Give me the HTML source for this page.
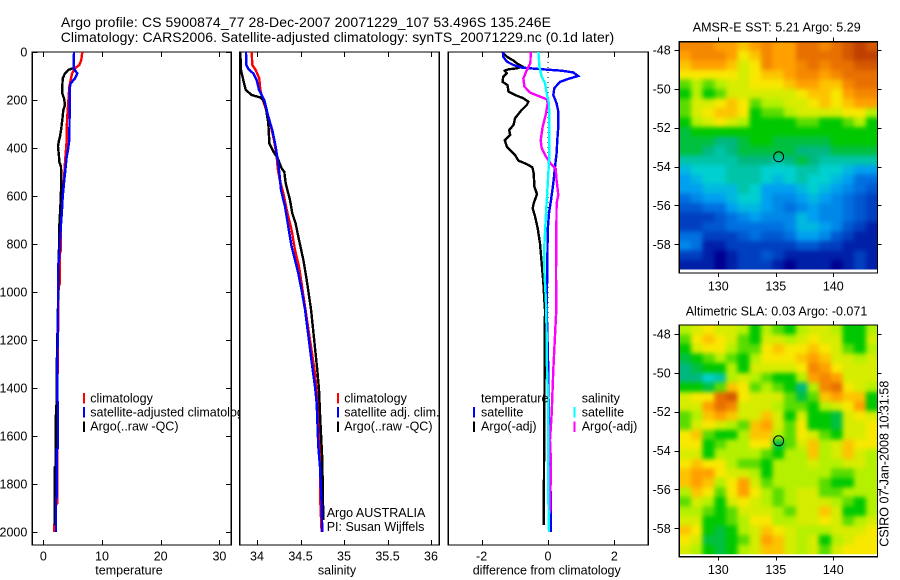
<!DOCTYPE html>
<html lang="en">
<head>
<meta charset="utf-8">
<title>Argo profile CS 5900874_77</title>
<style>
html,body{margin:0;padding:0;background:#fff;}
svg{display:block;}
text{font-family:"Liberation Sans",sans-serif;fill:#000;}
.t{font-size:12.5px;}
.title{font-size:14px;}
.prof{fill:none;stroke-width:2.4;shape-rendering:crispEdges;stroke-linejoin:miter;}
.box{fill:#fff;stroke:#000;stroke-width:1.4;shape-rendering:crispEdges;}
.frame{fill:none;stroke:#000;stroke-width:1.4;shape-rendering:crispEdges;}
.tick{stroke:#000;stroke-width:1;shape-rendering:crispEdges;}
.mk{shape-rendering:crispEdges;}
</style>
</head>
<body>
<svg id="fig" xmlns="http://www.w3.org/2000/svg" width="900" height="580" viewBox="0 0 900 580">
  <defs>
    <filter id="blurSst" filterUnits="userSpaceOnUse" x="660" y="20" width="240" height="270" color-interpolation-filters="sRGB">
      <feGaussianBlur stdDeviation="2.5"/>
    </filter>
    <filter id="blurSla" filterUnits="userSpaceOnUse" x="660" y="305" width="240" height="270" color-interpolation-filters="sRGB">
      <feGaussianBlur stdDeviation="2.5"/>
    </filter>
    <clipPath id="clipSst"><rect x="679.3" y="41.7" width="198.2" height="227.8"/></clipPath>
    <clipPath id="clipSla"><rect x="679.3" y="325" width="198.2" height="229.3"/></clipPath>
  </defs>
  <rect x="0" y="0" width="900" height="580" fill="#fff"/>
  <g id="p1"></g>
  <g id="p2"></g>
  <g id="p3"></g>
  <g id="m1"></g>
  <g id="m2"></g>

  <text class="title" x="61" y="27" textLength="490" lengthAdjust="spacing">Argo profile: CS 5900874_77 28-Dec-2007 20071229_107 53.496S 135.246E</text>
  <text class="title" x="60.7" y="42" textLength="553.5" lengthAdjust="spacing">Climatology: CARS2006. Satellite-adjusted climatology: synTS_20071229.nc (0.1d later)</text>

  <text class="t" x="129" y="574.5" text-anchor="middle">temperature</text>
  <text class="t" x="337" y="574.5" text-anchor="middle">salinity</text>
  <text class="t" x="546.7" y="574.5" text-anchor="middle" textLength="148" lengthAdjust="spacing">difference from climatology</text>

  <text class="t" x="692.7" y="31.5" textLength="168" lengthAdjust="spacing">AMSR-E SST: 5.21  Argo: 5.29</text>
  <text class="t" x="685.7" y="315.5" textLength="181.6" lengthAdjust="spacing">Altimetric SLA: 0.03  Argo: -0.071</text>
  <text class="t" transform="translate(888.5,546.7) rotate(-90)" textLength="166" lengthAdjust="spacing">CSIRO 07-Jan-2008 10:31:58</text>

  <text class="t" x="326.7" y="517">Argo AUSTRALIA</text>
  <text class="t" x="326.7" y="531">PI: Susan Wijffels</text>
</svg>

<script>
/* ---------- axis tick labels ---------- */
const depthTicks = [0, 200, 400, 600, 800, 1000, 1200, 1400, 1600, 1800, 2000];
const tempTicks = [0, 10, 20, 30];
const salTicks = [34, 34.5, 35, 35.5, 36];
const diffTicks = [-2, 0, 2];
const lonTicks = [130, 135, 140];
const latTicks = [-48, -50, -52, -54, -56, -58];

/* ---------- temperature panel ---------- */
const climTDepth = [0,33,54,68,89,117,144,228,283,367,478,533,575,644,714,783,825,840,964,978,1400,1880,1890,1960,1970,2000];
const climT = [6.65,6.48,6.13,5.40,4.89,4.66,4.43,4.20,4.04,3.98,3.64,3.53,3.30,3.07,2.90,3.0,3.0,2.85,2.85,2.6,2.4,2.39,2.1,2.0,1.88,1.88];
const satTDepth = [0,68,89,110,131,151,228,367,408,436,478,533,603,658,700,783,853,894,1072,1325,1453,1460,1650,1655,1853,1860,2000];
const satT = [5.23,5.17,5.80,5.40,4.66,4.49,4.49,4.43,4.21,3.98,3.81,3.58,3.30,3.19,3.07,2.84,2.73,2.50,2.50,2.39,2.39,2.50,2.50,2.28,2.28,2.16,2.16];
const argoTDepth = [0,68,69,75,89,110,144,172,193,221,242,283,318,353,374,394,436,457,478,533,617,672,728,783,853,922,1061,1325,1450,1533,1728,1730,1970];
const argoT = [5.23,5.17,4.83,4.26,3.70,3.30,3.24,3.24,3.53,3.70,3.41,3.24,3.07,2.84,2.62,2.50,2.67,2.73,3.02,3.07,2.96,2.84,2.73,2.73,2.62,2.56,2.50,2.28,2.28,2.11,2.11,1.94,1.94];

/* ---------- salinity panel ---------- */
const climSDepth = [0,54,75,110,158,207,283,367,436,485,533,589,658,742,825,894,964,1061,1339,1547,1872,2000];
const climS = [33.939,33.946,33.985,34.027,34.038,34.073,34.142,34.195,34.226,34.238,34.261,34.303,34.341,34.398,34.437,34.483,34.513,34.552,34.667,34.720,34.728,34.743];
const satSDepth = [0,54,71,89,117,158,200,269,325,394,450,506,575,644,728,811,867,922,992,1072,1325,1394,1464,1533,1644,1728,1881,2000];
const satS = [33.874,33.877,33.900,33.958,33.996,34.023,34.084,34.130,34.176,34.215,34.238,34.257,34.276,34.322,34.360,34.398,34.437,34.475,34.513,34.552,34.640,34.667,34.686,34.693,34.705,34.724,34.743,34.751];
const argoSDepth = [0,75,117,158,179,189,200,228,297,381,415,443,485,499,547,617,672,714,783,867,950,1072,1325,1408,1533,1700,1950];
const argoS = [33.808,33.816,33.843,33.870,33.939,34.034,34.073,34.100,34.130,34.142,34.188,34.238,34.284,34.314,34.330,34.379,34.406,34.444,34.483,34.533,34.571,34.621,34.693,34.713,34.728,34.751,34.762];

/* ---------- difference panel ---------- */
const argoDTDepth = [0,19,36,47,61,68,72,78,89,103,124,138,165,179,193,207,221,244,276,304,325,346,367,394,429,453,467,481,506,561,592,631,651,686,735,797,881,964,1033,1072,1533,1970];
const argoDT = [-1.38,-1.24,-1.04,-0.94,-0.77,-0.94,-1.19,-1.30,-1.24,-1.35,-1.37,-1.22,-1.19,-0.99,-0.74,-0.59,-0.64,-0.81,-0.99,-1.04,-1.17,-1.14,-1.30,-1.24,-0.99,-0.89,-0.64,-0.47,-0.43,-0.41,-0.33,-0.43,-0.46,-0.39,-0.31,-0.24,-0.19,-0.14,-0.11,-0.09,-0.11,-0.13];
const satDTDepth = [0,19,40,54,65,71,78,85,100,110,124,151,179,214,249,311,367,422,478,547,617,672,742,894,1072,1325,1644,1881,2000];
const satDT = [-1.35,-1.35,-1.24,-1.04,-0.79,-0.29,0.41,0.76,0.91,0.66,0.36,0.19,0.16,0.26,0.31,0.31,0.28,0.26,0.21,0.16,0.09,0.03,-0.01,-0.02,-0.04,0.01,0.03,0.09,0.09];
const argoDSDepth = [0,47,75,110,144,169,186,197,214,256,311,367,401,436,467,485,533,596,631,783,922,1072,1325,1506,1617,1714,1922];
const argoDS = [-0.52,-0.53,-0.64,-0.74,-0.71,-0.54,-0.24,-0.04,-0.01,-0.06,-0.16,-0.22,-0.19,-0.06,0.09,0.23,0.26,0.31,0.26,0.25,0.24,0.25,0.16,0.11,0.06,0.09,0.06];
const satDSDepth = [0,61,103,131,172,214,311,436,506,603,672,811,908,1019,1072,1325,1464,1853,2000];
const satDS = [-0.29,-0.26,-0.19,-0.09,-0.04,0.03,0.04,0.04,0.01,-0.03,-0.06,-0.11,-0.11,-0.07,-0.05,-0.03,0.01,0.01,0.03];

/* ---------- map fields (colour-scale level per cell, north to south) ---------- */
const sstLevels = [
[9.5,9.5,9.5,9,9,8.5,9,9.5,9,9,10,10,9.5,10,10.5,11,10.5],
[9,9.5,9.5,9.5,9,8,8.5,9.5,9,9,10,10,10,10,10.5,11,11],
[8.5,9,9,9,8.5,7.5,8,9.5,9,9,9.5,10,9.5,10,10,10.5,10.5],
[8,8,8,8,8,7.5,8,8.5,8.5,9,9.5,9.5,9,9.5,10,10,10],
[6.5,7,6.5,7,7.5,7.5,8,8,8,8.5,9,9,8.5,8.5,9.5,10,10],
[6,7,6,6.5,7.5,7.5,7.5,7.5,7.5,7.5,8,8.5,8.5,8,9,9.5,9.5],
[6.5,7.5,7.5,8,8.5,8,6.5,7,7,7.5,7.5,8,8.5,8,8.5,9,9],
[6.5,7.5,8,8.5,8.5,8,6,6.5,6.5,7,7.5,7.5,7.5,7.5,8,8,7],
[6,7,7.5,8,7.5,7,6,6,6,6,6.5,6.5,6,6,6.5,7,6],
[5.5,6,6,6,6,6,6,6,6,6,6,6,6,6,6,6,6],
[5.5,5.5,5.5,5,5,5.5,6,6,5.5,5.5,5.5,5.5,5.5,6,6,6,6],
[5.5,5.5,5,4.5,5,5.5,5.5,5.5,5.5,5.5,5,5,5,5.5,5.5,5.5,5.5],
[4.5,4.5,4.5,4.5,4.5,5,5,5,4.5,5,5.5,5,4.5,4.5,4.5,4.5,4.5],
[3.5,4,4,4,4.5,4.5,4.5,4,4,4,4.5,4.5,4,4,3.5,3,3],
[3,3.5,4,4,4.5,4.5,4.5,4,3.5,4,4.5,4,4,3.5,3,2,2],
[3,3,3.5,3.5,3.5,4.5,4,3,3,3,3.5,4,3.5,3,2.5,2,1.5],
[2,2.5,3,3,3.5,4,4,3,2.5,2.5,3,3.5,3,2.5,2,1.5,1],
[1.5,1.5,2,2,3,3.5,3.5,3,2.5,2,2.5,3,2.5,2.5,2,1.5,1],
[1,1,1,1.5,2,2.5,3,2.5,2.5,2.5,3.5,3,2.5,2.5,2,1.5,1],
[1,1,1.5,1.5,2,2,2,2,2,2.5,3.5,3.5,3,2.5,1.5,1,0.5],
[2,2,1,1,1,1.5,2,1.5,1.5,2,3,3,2.5,1.5,1,0.5,0.5],
[2.5,2,0.5,0.5,1,1,1,1,1,1,1.5,1.5,1,1,0.5,0.5,0.5],
[1,1,0.5,0,0.5,1,1,1.5,1,0.5,0.5,0.5,0.5,0.5,0.5,1,0.5],
[0.5,0.5,0.5,0,0.5,1,1,1,0.5,0,0.5,0.5,0.5,0,0.5,1,0.5]
];
const slaLevels = [
[7,7.5,8,7.5,7.5,7,6,7,6.5,6,7,7.5,7.5,7,6,6,7],
[6.5,8,8.5,8,7.5,6.5,6,7.5,7.5,7,7.5,8,7.5,7.5,6,6,7.5],
[6,7.5,8,8,7,6.5,6.5,8,8.5,8,8,8.5,8,7.5,6.5,6,7],
[5.5,6,6.5,7,6.5,6,7,8,8,8,8.5,9,8.5,7.5,7.5,7,7.5],
[5,5.5,6,6,7,6,7.5,7.5,7.5,7.5,8,9.5,9,8,7.5,7.5,7.5],
[5,5,4,4.5,7,7.5,7,6.5,6,6,7,9,9.5,9,7.5,7.5,7.5],
[6,6,5.5,6.5,8.5,8,6.5,7,6.5,6,5,7,9.5,10,8,7.5,7],
[7.5,8,8,10,10.5,8,7.5,7.5,7.5,6.5,5.5,6.5,8.5,9,8.5,8.5,6],
[7.5,7.5,9,10,9.5,7.5,7.5,7.5,7,6.5,6.5,6,7,7.5,8,9,6],
[6.5,7,8.5,9,8.5,7.5,7.5,8.5,7.5,6,7.5,6,6,5.5,7.5,8,7.5],
[6.5,7.5,8,7.5,7,6.5,8.5,9,7.5,6.5,8,6,6,5.5,7.5,7.5,8],
[8,8.5,6.5,6,6,7,8.5,8.5,7,6.5,8,7.5,6.5,6,7.5,7.5,8],
[8,8,6,6.5,7,7,8,8,5.5,6.5,7.5,8.5,7,7.5,8.5,8,8],
[7.5,7.5,6,7,7,7,7,6.5,6,7,7,8.5,7,7.5,8.5,7.5,7],
[8,8.5,8,8,7,6.5,6.5,6,7,7,7,7.5,7,7,7.5,7.5,7],
[8.5,9,9,8,7.5,7.5,7,6,7,7,7,7,7,6.5,6.5,7,7],
[8.5,9,8.5,7,8,9,7.5,6.5,7,7,7,7,6.5,6,6,7,7],
[7,8.5,8,6.5,8,9,8,7,6.5,7,7.5,7.5,6.5,6.5,7,7,7],
[6.5,7.5,7,6,7.5,8,7.5,7,6.5,7,7.5,7.5,7.5,7,6.5,6,7],
[7,7,6.5,6,6.5,7.5,7.5,7.5,7,6.5,7.5,7.5,8.5,7.5,6,6,7],
[7.5,7.5,6,6,6.5,7,8,8,7,7,7.5,7.5,8,7.5,6.5,7,7.5],
[8.5,8,6,5.5,6,7,7.5,8.5,8,7.5,7,7,7,7.5,7.5,7.5,8],
[8,7.5,5.5,5.5,6,6.5,7.5,9,8.5,7.5,7,7.5,6,7,7.5,8,8],
[7.5,7,6,5.5,6,7,7.5,8.5,8.5,7.5,7,7.5,6.5,7.5,8,8,8]
];
const profileLon = [135.246];
const profileLat = [-53.496];

/* ---------- helpers ---------- */
const NS = 'http://www.w3.org/2000/svg';
function mk(parent, tag, attrs, txt) {
  const el = document.createElementNS(NS, tag);
  for (const k in attrs) el.setAttribute(k, attrs[k]);
  if (txt !== undefined) el.textContent = txt;
  parent.appendChild(el);
  return el;
}
const yDepth = d => 52 + d * 0.24;
const xTemp = v => 43.3 + v * 5.87;
const xSal = v => 257 + (v - 34) * 87;
const xDiff = v => 548 + v * 33.2;
const LX0 = 679.3, LX1 = 877.5;

function drawLine(g, xf, depth, vals, color, name) {
  let d = '';
  for (let i = 0; i < vals.length; i++) {
    d += (i ? 'L' : 'M') + xf(vals[i]).toFixed(1) + ' ' + yDepth(depth[i]).toFixed(1);
  }
  const el = mk(g, 'path', {d: d, stroke: color, 'class': 'prof'});
  
  
}

function panelBox(g, x0, x1, name) {
  const el = mk(g, 'rect', {x: x0, y: 52, width: x1 - x0, height: 493, 'class': 'box'});
  
  
}

function xTicks(g, xf, ticks, fmt, name) {
  ticks.forEach(v => {
    const x = Math.round(xf(v)) + 0.5;
    const a = mk(g, 'line', {x1: x, x2: x, y1: 52, y2: 57, 'class': 'tick'});
    
    
    const b = mk(g, 'line', {x1: x, x2: x, y1: 540, y2: 545, 'class': 'tick'});
    
    
    const t = mk(g, 'text', {x: xf(v), y: 560.5, 'text-anchor': 'middle', 'class': 't'}, fmt(v));
    
    
  });
}

function legendMark(g, x, y, color, name) {
  const el = mk(g, 'rect', {x: x, y: y, width: 2, height: 10.5, fill: color, 'class': 'mk'});
  
  
}
function legendText(g, x, y, txt, name) {
  const el = mk(g, 'text', {x: x, y: y, 'class': 't'}, txt);
  
  
}

/* ---------- temperature panel ---------- */
const p1 = document.getElementById('p1');
panelBox(p1, 32.3, 231.3, 'temperature-plot-area');
drawLine(p1, xTemp, climTDepth, climT, '#ff0000', 'climatology-temperature-line');
drawLine(p1, xTemp, argoTDepth, argoT, '#000000', 'argo-temperature-line');
drawLine(p1, xTemp, satTDepth, satT, '#0000ff', 'satellite-temperature-line');
depthTicks.forEach(d => {
  const y = Math.round(yDepth(d)) + 0.5;
  const a = mk(p1, 'line', {x1: 32.3, x2: 37.5, y1: y, y2: y, 'class': 'tick'});
  
  
  const b = mk(p1, 'line', {x1: 226, x2: 231.3, y1: y, y2: y, 'class': 'tick'});
  
  
  const t = mk(p1, 'text', {x: 27.3, y: yDepth(d) + 4.5, 'text-anchor': 'end', 'class': 't'}, String(d));
  
  
});
xTicks(p1, xTemp, tempTicks, String, 'temperature');
legendMark(p1, 83, 393, '#ff0000', 'legend-climatology-mark');
legendText(p1, 90.3, 402.5, 'climatology', 'legend-climatology-label');
legendMark(p1, 83, 407, '#0000ff', 'legend-satellite-mark');
legendText(p1, 90.3, 416.5, 'satellite-adjusted climatology', 'legend-satellite-label');
legendMark(p1, 83, 421.5, '#000000', 'legend-argo-mark');
legendText(p1, 90.3, 430.5, 'Argo(..raw -QC)', 'legend-argo-label');

/* ---------- salinity panel ---------- */
const p2 = document.getElementById('p2');
panelBox(p2, 239.7, 439.3, 'salinity-plot-area');
drawLine(p2, xSal, climSDepth, climS, '#ff0000', 'climatology-salinity-line');
drawLine(p2, xSal, argoSDepth, argoS, '#000000', 'argo-salinity-line');
drawLine(p2, xSal, satSDepth, satS, '#0000ff', 'satellite-salinity-line');
xTicks(p2, xSal, salTicks, String, 'salinity');
legendMark(p2, 337, 393, '#ff0000', 'legend-climatology-mark');
legendText(p2, 344.3, 402.5, 'climatology', 'legend-climatology-label');
legendMark(p2, 337, 407, '#0000ff', 'legend-satellite-mark');
legendText(p2, 344.3, 416.5, 'satellite adj. clim.', 'legend-satellite-label');
legendMark(p2, 337, 421.5, '#000000', 'legend-argo-mark');
legendText(p2, 344.3, 430.5, 'Argo(..raw -QC)', 'legend-argo-label');

/* ---------- difference panel ---------- */
const p3 = document.getElementById('p3');
panelBox(p3, 448.3, 648.3, 'difference-plot-area');
const zero = mk(p3, 'line', {x1: xDiff(0), x2: xDiff(0), y1: yDepth(0), y2: yDepth(2000), stroke: '#000', 'stroke-width': 1, 'stroke-dasharray': '1 4', 'shape-rendering': 'crispEdges'});


drawLine(p3, xDiff, argoDTDepth, argoDT, '#000000', 'argo-temperature-difference-line');
drawLine(p3, xDiff, satDTDepth, satDT, '#0000ff', 'satellite-temperature-difference-line');
drawLine(p3, xDiff, argoDSDepth, argoDS, '#ff00ff', 'argo-salinity-difference-line');
drawLine(p3, xDiff, satDSDepth, satDS, '#00ffff', 'satellite-salinity-difference-line');
xTicks(p3, xDiff, diffTicks, String, 'difference');
legendText(p3, 481, 402.5, 'temperature', 'legend-temperature-heading');
legendMark(p3, 473, 407, '#0000ff', 'legend-temperature-satellite-mark');
legendText(p3, 481, 416.5, 'satellite', 'legend-temperature-satellite-label');
legendMark(p3, 473, 421.5, '#000000', 'legend-temperature-argo-mark');
legendText(p3, 481, 430.5, 'Argo(-adj)', 'legend-temperature-argo-label');
legendText(p3, 581.7, 402.5, 'salinity', 'legend-salinity-heading');
legendMark(p3, 573.5, 407, '#00ffff', 'legend-salinity-satellite-mark');
legendText(p3, 581.7, 416.5, 'satellite', 'legend-salinity-satellite-label');
legendMark(p3, 573.5, 421.5, '#ff00ff', 'legend-salinity-argo-mark');
legendText(p3, 581.7, 430.5, 'Argo(-adj)', 'legend-salinity-argo-label');

/* ---------- maps ---------- */
const colourStops = ['#000090','#0040c0','#0070e0','#00a0f0','#00d0d0','#00b880','#00c800','#b4f000','#f8e800','#ffa000','#e87000','#c04000'];
function colourOf(v) {
  const i = Math.max(0, Math.min(colourStops.length - 1.001, v));
  const a = Math.floor(i), f = i - a;
  const c0 = colourStops[a], c1 = colourStops[a + 1];
  const ch = s => parseInt(c0.substr(s, 2), 16) * (1 - f) + parseInt(c1.substr(s, 2), 16) * f;
  return 'rgb(' + Math.round(ch(1)) + ',' + Math.round(ch(3)) + ',' + Math.round(ch(5)) + ')';
}
const xLon = lon => 718.3 + (lon - 130) * 11.5;

function drawMap(g, grid, top, bottom, imgBottom, lat48Y, name, filterId, clipId) {
  const yLat = lat => lat48Y + (-48 - lat) * 19.43;
  const rows = grid.length, cols = grid[0].length;
  const cw = (LX1 - LX0) / cols, ch = (imgBottom - top) / rows;
  const bg = mk(g, 'rect', {x: LX0, y: top, width: LX1 - LX0, height: bottom - top, fill: '#fff'});
  
  
  const clip = mk(g, 'g', {'clip-path': 'url(#' + clipId + ')'});
  
  
  const field = mk(clip, 'g', {filter: 'url(#' + filterId + ')'});
  
  
  const bleed = 12;
  grid.forEach((row, r) => row.forEach((v, c) => {
    const left = c === 0 ? bleed : 0, right = c === cols - 1 ? bleed : 0;
    const up = r === 0 ? bleed : 0, down = r === rows - 1 ? bleed : 0;
    const cell = mk(field, 'rect', {
      x: (LX0 + c * cw - left).toFixed(2), y: (top + r * ch - up).toFixed(2),
      width: (cw + 0.4 + left + right).toFixed(2), height: (ch + 0.4 + up + down).toFixed(2),
      fill: colourOf(v), 'shape-rendering': 'crispEdges'
    });
    
    
  }));
  const fr = mk(g, 'rect', {x: LX0, y: top, width: LX1 - LX0, height: bottom - top, 'class': 'frame'});
  
  
  lonTicks.forEach(lon => {
    const x = Math.round(xLon(lon)) + 0.5;
    const a = mk(g, 'line', {x1: x, x2: x, y1: top - 4, y2: top, 'class': 'tick'});
    
    
    const b = mk(g, 'line', {x1: x, x2: x, y1: bottom, y2: bottom + 4, 'class': 'tick'});
    
    
    const t = mk(g, 'text', {x: xLon(lon), y: bottom + 17.5, 'text-anchor': 'middle', 'class': 't'}, String(lon));
    
    
  });
  latTicks.forEach(lat => {
    const y = Math.round(yLat(lat)) + 0.5;
    const a = mk(g, 'line', {x1: LX0 - 5, x2: LX0, y1: y, y2: y, 'class': 'tick'});
    
    
    const b = mk(g, 'line', {x1: LX1, x2: LX1 + 4, y1: y, y2: y, 'class': 'tick'});
    
    
    const t = mk(g, 'text', {x: 670.7, y: yLat(lat) + 4.5, 'text-anchor': 'end', 'class': 't'}, String(lat));
    
    
  });
  const mark = mk(g, 'circle', {cx: xLon(profileLon[0]), cy: yLat(profileLat[0]), r: 5, fill: 'none', stroke: '#000', 'stroke-width': 1});
  
  
}
drawMap(document.getElementById('m1'), sstLevels, 41.7, 273, 269.5, 50, 'sst-map', 'blurSst', 'clipSst');
drawMap(document.getElementById('m2'), slaLevels, 325, 556.7, 554.3, 334, 'sla-map', 'blurSla', 'clipSla');
</script>
</body>
</html>
